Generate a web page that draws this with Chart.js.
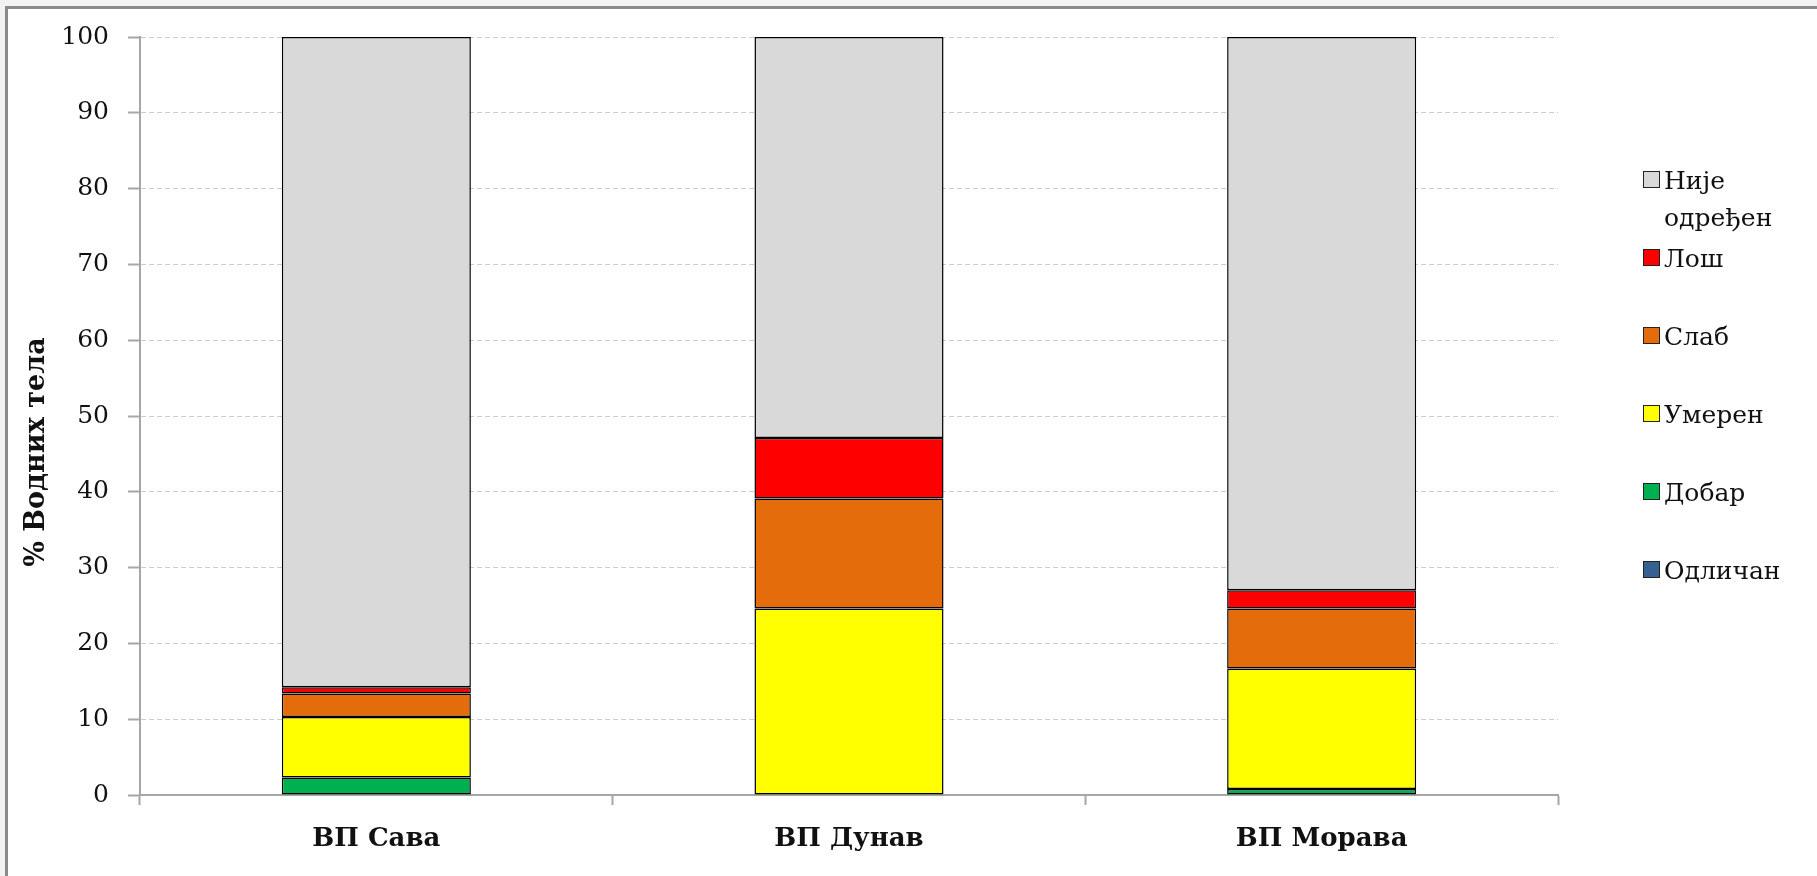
<!DOCTYPE html>
<html>
<head>
<meta charset="utf-8">
<script src="https://cdn.jsdelivr.net/npm/chart.js@4/dist/chart.umd.min.js"></script>
<style>
  html, body { margin: 0; padding: 0; width: 1817px; height: 876px; overflow: hidden; background: #f2f2f2; }
  .frame { position: absolute; left: 5px; top: 6px; width: 1830px; height: 890px;
           border-left: 3px solid #8a8a8a; border-top: 3px solid #8a8a8a; background: #ffffff; }
  #chart { position: absolute; left: 0; top: 0; }
  .legend { position: absolute; left: 1643px; top: 0; font-family: "DejaVu Serif", serif;
            font-size: 25px; color: #111; }
  .legend .item { position: absolute; left: 0; width: 200px; white-space: nowrap; }
  .legend .box { position: absolute; left: 0; width: 15px; height: 15px; border: 1.5px solid #222; }
  .legend .text { position: absolute; left: 21px; line-height: 37px; }
</style>
</head>
<body>
<div class="frame"></div>
<canvas id="chart" width="1817" height="876"></canvas>
<div class="legend" id="legend"></div>
<script>
// River basin districts
const categories = ['ВП Сава', 'ВП Дунав', 'ВП Морава'];

// Share of water bodies (%) per ecological status class
const odlican      = [0, 0, 0];
const dobar        = [2.3, 0, 0.8];
const umeren       = [8.0, 24.6, 15.9];
const slab         = [3.1, 14.5, 7.9];
const los          = [0.8, 8.0, 2.4];
const nijeOdredjen = [85.8, 52.9, 73.0];

const yTicks = [0, 10, 20, 30, 40, 50, 60, 70, 80, 90, 100];
const yTitle = '% Водних тела';

const seriesNames  = ['Одличан', 'Добар', 'Умерен', 'Слаб', 'Лош', 'Није одређен'];
const seriesLegend = ['Одличан', 'Добар', 'Умерен', 'Слаб', 'Лош', 'Није\nодређен'];
const seriesColors = ['#376092', '#00b050', '#ffff00', '#e46c0a', '#ff0000', '#d9d9d9'];
const seriesValues = [odlican, dobar, umeren, slab, los, nijeOdredjen];

const datasets = seriesNames.map((name, i) => ({
  label: name,
  data: seriesValues[i],
  backgroundColor: seriesColors[i],
  borderColor: '#000000',
  borderWidth: 1.5,
  borderSkipped: false,
  barPercentage: 0.4,
  categoryPercentage: 1.0
}));

// Rotated y-axis title, drawn a little below the axis midpoint
const yTitlePlugin = {
  id: 'yTitle',
  afterDraw(chart) {
    const ctx = chart.ctx;
    ctx.save();
    ctx.translate(37, 452);
    ctx.rotate(-Math.PI / 2);
    ctx.font = 'bold 27px "DejaVu Serif"';
    ctx.fillStyle = '#111';
    ctx.textAlign = 'center';
    ctx.textBaseline = 'middle';
    ctx.fillText(yTitle, 0, 0);
    ctx.restore();
  }
};

new Chart(document.getElementById('chart'), {
  type: 'bar',
  data: { labels: categories, datasets },
  plugins: [yTitlePlugin],
  options: {
    responsive: false,
    animation: false,
    devicePixelRatio: 1,
    layout: { padding: { top: 37, right: 259, bottom: 0, left: 0 } },
    plugins: { legend: { display: false }, tooltip: { enabled: false } },
    scales: {
      x: {
        stacked: true,
        afterFit(scale) { scale.height = 81; },
        grid: { drawOnChartArea: false, offset: true, tickLength: 10, tickColor: '#a6a6a6', tickWidth: 2 },
        border: { color: '#a6a6a6', width: 2 },
        ticks: {
          color: '#111',
          padding: 19,
          maxRotation: 0,
          font: { family: 'DejaVu Serif', size: 26, weight: 'bold' }
        }
      },
      y: {
        stacked: true,
        min: 0,
        max: 100,
        afterFit(scale) { scale.width = 140; },
        afterBuildTicks(scale) { scale.ticks = yTicks.map(v => ({ value: v })); },
        grid: {
          color: '#cccccc',
          lineWidth: 1,
          tickBorderDash: [],
          tickColor: '#a6a6a6',
          tickWidth: 2,
          tickLength: 12
        },
        border: { color: '#a6a6a6', width: 2, dash: [5, 3] },
        ticks: {
          color: '#111',
          padding: 19,
          font: { family: 'DejaVu Serif', size: 25 }
        }
      }
    }
  }
});

// Legend: top entry first, entries evenly spaced
const legendEl = document.getElementById('legend');
const firstCenter = 180, step = 78, lineH = 37;
for (let k = 0; k < seriesNames.length; k++) {
  const i = seriesNames.length - 1 - k;
  const center = firstCenter + k * step;
  const item = document.createElement('div');
  item.className = 'item';
  item.style.top = (center - lineH / 2) + 'px';
  const box = document.createElement('div');
  box.className = 'box';
  box.style.background = seriesColors[i];
  box.style.top = (lineH / 2 - 9) + 'px';
  const text = document.createElement('div');
  text.className = 'text';
  seriesLegend[i].split('\n').forEach((line, j) => {
    if (j > 0) text.appendChild(document.createElement('br'));
    text.appendChild(document.createTextNode(line));
  });
  item.appendChild(box);
  item.appendChild(text);
  legendEl.appendChild(item);
}
</script>
</body>
</html>
